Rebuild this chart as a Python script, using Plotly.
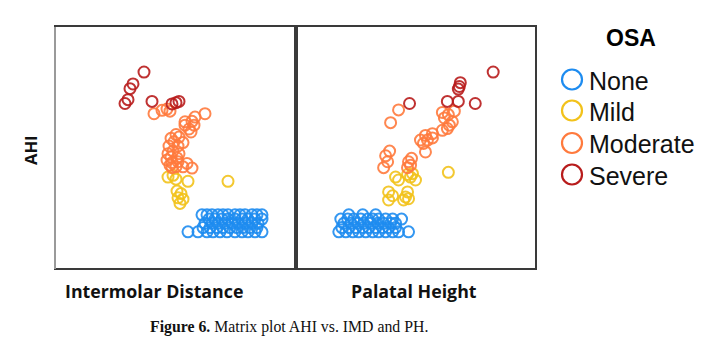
import plotly.graph_objects as go

W, H = 728, 354

# ---------------- data ----------------
classes = ["None", "Mild", "Moderate", "Severe"]
colors = {"None": "#1E8CF0", "Mild": "#F2C21B", "Moderate": "#FF7A3D", "Severe": "#B81C1C"}

# Left panel: Intermolar Distance (IMD) vs AHI
imd_severe = [36.8, 35.7, 35.4, 35.2, 34.9, 37.6, 39.6, 40.0, 40.3]
ahi_imd_severe = [37.6, 34.8, 33.7, 31.1, 30.2, 30.7, 30.1, 30.4, 30.7]

imd_moderate = [37.8, 38.6, 39.1, 39.4, 42.9, 41.9, 40.9, 41.6, 41.8, 41.3, 41.5, 40.9,
                40.0, 39.5, 40.3, 40.7, 39.8, 39.3, 40.2, 39.2, 39.7, 40.3, 39.5, 40.1,
                39.1, 39.6, 40.2, 39.4, 40.0, 41.1, 41.6, 40.7, 39.6]
ahi_imd_moderate = [27.8, 28.6, 28.9, 28.4, 27.8, 27.0, 25.9, 26.0, 25.1, 24.2, 23.5, 25.1,
                    22.9, 22.0, 22.3, 21.0, 21.2, 20.2, 20.2, 18.4, 19.0, 18.4, 17.6, 17.4,
                    16.9, 16.3, 16.5, 15.7, 15.3, 16.1, 15.0, 15.3, 15.1]

imd_mild = [39.2, 39.7, 40.0, 41.2, 45.2, 40.1, 40.5, 40.2, 40.7, 40.4]
ahi_imd_mild = [12.9, 13.3, 12.4, 11.9, 11.9, 9.6, 9.0, 8.0, 7.7, 6.7]

imd_none = [42.6, 43.1, 43.6, 44.2, 44.7, 45.2, 45.9, 46.4, 46.9, 47.6, 48.1, 48.6,
            43.3, 43.9, 44.6, 45.2, 45.9, 46.6, 47.2, 47.9, 48.6,
            42.9, 43.6, 44.2, 44.9, 45.6, 46.2, 46.9, 47.6, 48.2,
            42.7, 43.4, 44.1, 44.7, 45.4, 46.1, 46.7, 47.4, 48.1,
            41.2, 42.2, 43.1, 43.7, 44.4, 45.1, 45.9, 46.6, 47.2, 47.9, 48.6]
ahi_imd_none = [4] * 12 + [3] * 9 + [2] * 9 + [1] * 9 + [0] * 11

# Right panel: Palatal Height (PH) vs AHI
ph_severe = [27.8, 24.5, 24.4, 24.3, 23.2, 24.3, 26.0, 19.4]
ahi_ph_severe = [37.6, 35.1, 34.2, 33.6, 30.7, 30.7, 30.2, 30.2]

ph_moderate = [18.3, 17.5, 22.7, 23.3, 22.9, 23.7, 23.4, 22.7, 23.2, 23.9,
               21.7, 21.0, 20.5, 21.2, 20.8, 21.7, 21.0,
               17.4, 17.0, 17.2, 16.8, 19.6, 19.3, 19.5, 19.2]
ahi_ph_moderate = [28.7, 25.7, 28.1, 27.6, 26.8, 25.9, 25.1, 23.9, 24.3, 28.4,
                   23.1, 22.7, 21.6, 21.6, 20.8, 22.1, 18.8,
                   19.0, 17.9, 16.5, 15.1, 17.3, 16.5, 15.7, 15.1]

ph_mild = [23.3, 18.0, 18.3, 19.2, 19.7, 20.0, 19.5, 17.3, 17.7, 17.3, 19.2, 19.0, 19.3, 18.8]
ahi_ph_mild = [14.0, 12.9, 12.2, 13.5, 13.7, 12.2, 12.9, 9.4, 8.5, 7.5, 9.4, 8.2, 7.8, 7.5]

ph_none = [13.3, 14.7, 16.0,
           12.5, 13.2, 13.8, 14.5, 15.2, 15.7, 16.3, 17.0, 17.7, 18.6,
           12.8, 13.5, 14.2, 14.8, 15.5, 16.2, 16.8, 17.5, 18.0,
           12.6, 13.3, 14.0, 14.7, 15.3, 16.0, 16.7, 17.3, 18.0,
           12.3, 13.0, 13.7, 14.3, 15.0, 15.7, 16.3, 17.0, 17.7, 18.3, 19.3]
ahi_ph_none = [4] * 3 + [3] * 10 + [2] * 9 + [1] * 9 + [0] * 11

left = {"None": (imd_none, ahi_imd_none), "Mild": (imd_mild, ahi_imd_mild),
        "Moderate": (imd_moderate, ahi_imd_moderate), "Severe": (imd_severe, ahi_imd_severe)}
right = {"None": (ph_none, ahi_ph_none), "Mild": (ph_mild, ahi_ph_mild),
         "Moderate": (ph_moderate, ahi_ph_moderate), "Severe": (ph_severe, ahi_ph_severe)}

# ---------------- figure ----------------
fig = go.Figure()
for panel, (xa, ya) in ((left, ("x", "y")), (right, ("x2", "y2"))):
    for c in classes:
        x, y = panel[c]
        fig.add_trace(go.Scatter(x=x, y=y, mode="markers", name=c, legendgroup=c,
                                 marker=dict(symbol="circle-open", size=11, color=colors[c],
                                             line=dict(width=2, color=colors[c]), opacity=0.9),
                                 xaxis=xa, yaxis=ya, showlegend=False))

x0, xm, x1 = 56 / W, 296 / W, 535 / W
y0, y1 = 1 - 268 / H, 1 - 27 / H
ax_common = dict(showgrid=False, zeroline=False, showticklabels=False, ticks="",
                 showline=True, mirror=True, linecolor="#3a3a3a", linewidth=2)

fig.update_layout(
    width=W, height=H,
    margin=dict(l=0, r=0, t=0, b=0),
    paper_bgcolor="white", plot_bgcolor="white",
    showlegend=False,
    xaxis=dict(domain=[x0, xm], range=[28, 52], **ax_common),
    yaxis=dict(domain=[y0, y1], range=[-8.5, 48.2], **ax_common),
    xaxis2=dict(domain=[xm, x1], range=[8, 32], anchor="y2", **ax_common),
    yaxis2=dict(domain=[y0, y1], range=[-8.5, 48.2], anchor="x2", **ax_common),
)

# lighter left edge of the frame, as in the reference
fig.add_shape(type="line", xref="paper", yref="paper", x0=55 / W, x1=55 / W,
              y0=1 - 269 / H, y1=1 - 27 / H, line=dict(color="#9a9a9a", width=2))

# ---------------- legend (drawn) ----------------
leg_font = "Liberation Sans, Arial"
fig.add_annotation(text="<b>OSA</b>", x=631 / W, y=1 - 38 / H, xref="paper", yref="paper",
                   showarrow=False, xanchor="center", yanchor="middle",
                   font=dict(family=leg_font, size=23, color="black"))
leg_y = [79.5, 110.5, 143, 174.5]
for c, yy in zip(classes, leg_y):
    r = 10
    cx = 572
    fig.add_shape(type="circle", xref="paper", yref="paper",
                  x0=(cx - r) / W, x1=(cx + r) / W, y0=1 - (yy + r) / H, y1=1 - (yy - r) / H,
                  line=dict(color=colors[c], width=2.2), fillcolor="rgba(0,0,0,0)")
    fig.add_annotation(text=c, x=587 / W, y=1 - (yy + 1) / H, xref="paper", yref="paper",
                       showarrow=False, xanchor="left", yanchor="middle",
                       font=dict(family=leg_font, size=25, color="#111"))

annos = [
    dict(text="<b>Intermolar Distance</b>", x=154 / W, y=1 - 291 / H, xanchor="center", yanchor="middle",
         font=dict(family="Open Sans", size=17.8, color="#111")),
    dict(text="<b>Palatal Height</b>", x=414 / W, y=1 - 291 / H, xanchor="center", yanchor="middle",
         font=dict(family="Open Sans", size=17.8, color="#111")),
    dict(text="<b>AHI</b>", x=30 / W, y=1 - 151 / H, xanchor="center", yanchor="middle", textangle=-90,
         font=dict(family="Open Sans", size=16.5, color="#111")),
    dict(text="<b>Figure 6.</b> Matrix plot AHI vs. IMD and PH.", x=148 / W, y=1 - 327 / H,
         xanchor="left", yanchor="middle",
         font=dict(family="Liberation Serif, DejaVu Serif", size=15.8, color="#111")),
]
for a in annos:
    fig.add_annotation(xref="paper", yref="paper", showarrow=False, **a)

fig.write_html("out.html")
